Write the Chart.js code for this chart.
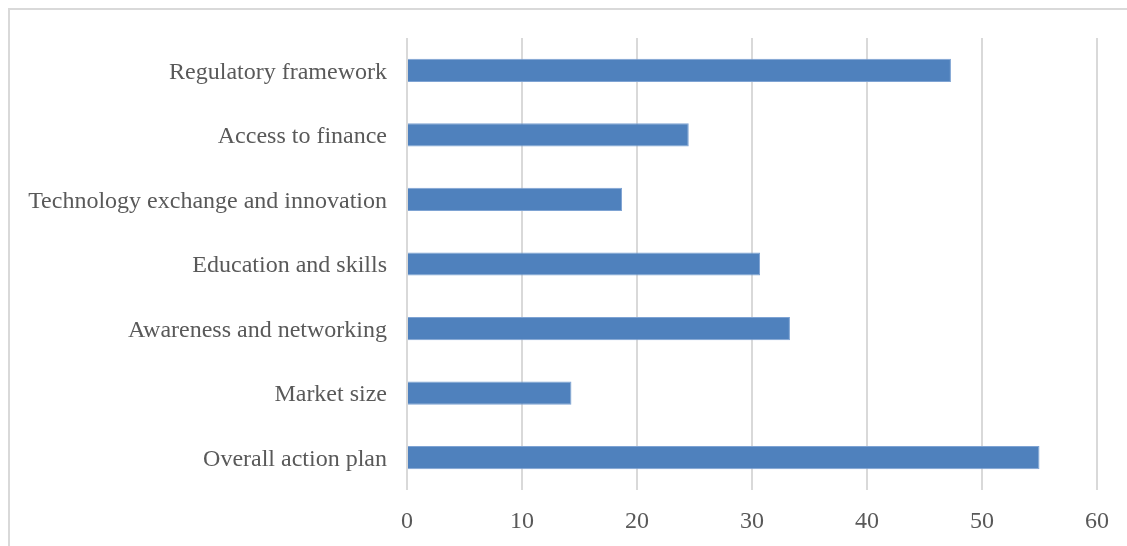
<!DOCTYPE html>
<html>
<head>
<meta charset="utf-8">
<script src="https://cdn.jsdelivr.net/npm/chart.js@4/dist/chart.umd.min.js"></script>
<style>
  html, body { margin: 0; padding: 0; background: #ffffff; }
  #wrap { position: relative; width: 1127px; height: 546px; overflow: hidden; }
  #frame { position: absolute; left: 8px; top: 8px; width: 1200px; height: 600px; border: 2px solid #d9d9d9; border-width: 2px 0 0 2px; box-sizing: border-box; }
  canvas { position: absolute; left: 0; top: 0; }
</style>
</head>
<body>
<div id="wrap">
  <div id="frame"></div>
  <canvas id="chart" width="1127" height="546"></canvas>
</div>
<script>
// Categories, listed from top to bottom
const categories = [
  "Regulatory framework",
  "Access to finance",
  "Technology exchange and innovation",
  "Education and skills",
  "Awareness and networking",
  "Market size",
  "Overall action plan"
];
// Scores per category
const scores = [47.3, 24.5, 18.7, 30.7, 33.3, 14.3, 55.0];
// Horizontal axis range and step
const xMin = 0;
const xMax = 60;
const xStep = 10;

const textColor = "#595959";
const gridColor = "#d9d9d9";
const font = { family: "'Liberation Serif', 'Times New Roman', serif", size: 24 };

new Chart(document.getElementById("chart"), {
  type: "bar",
  data: {
    labels: categories,
    datasets: [{
      data: scores,
      backgroundColor: "#4f81bd",
      borderColor: "#7ea3d3",
      borderWidth: 1,
      categoryPercentage: 1,
      barPercentage: 0.36
    }]
  },
  options: {
    indexAxis: "y",
    responsive: false,
    animation: false,
    layout: { padding: { left: 0, top: 38, right: 30, bottom: 0 } },
    plugins: { legend: { display: false }, tooltip: { enabled: false } },
    scales: {
      x: {
        min: xMin,
        max: xMax,
        ticks: { stepSize: xStep, color: textColor, font: font, padding: 17 },
        grid: { color: gridColor, lineWidth: 2, drawTicks: false },
        border: { display: false },
        afterFit: (s) => { s.height = 56; }
      },
      y: {
        ticks: { color: textColor, font: font, padding: 20, labelOffset: 2 },
        grid: { display: false, drawTicks: false },
        border: { display: false },
        afterFit: (s) => { s.width = 407; }
      }
    }
  }
});
</script>
</body>
</html>
